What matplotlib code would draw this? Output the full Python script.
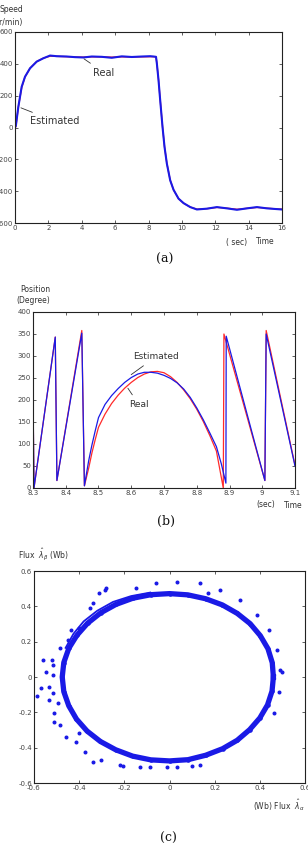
import matplotlib
matplotlib.use("Agg")
import matplotlib.pyplot as plt
from matplotlib.ticker import FormatStrFormatter

# ---- (a) speed ----
t_speed = [0, 0.05, 0.2, 0.4, 0.6, 0.9, 1.3, 1.7, 2.1, 2.5, 3.1, 3.6, 4.1, 4.6, 5.2, 5.8, 6.4, 7.0,
           7.6, 8.1, 8.3, 8.45, 8.5, 8.6, 8.7, 8.84, 8.96, 9.1, 9.3, 9.5, 9.8, 10.1, 10.5, 10.9,
           11.5, 12.1, 12.7, 13.3, 13.9, 14.5, 15.1, 15.6, 16.0]
speed_est = [0, 10, 130, 256, 319, 372, 414, 435, 452, 448, 446, 442, 440, 446, 444, 438, 447, 443,
             446, 448, 446, 444, 403, 298, 172, 4, -122, -227, -332, -391, -447, -475, -500, -515,
             -510, -500, -508, -517, -508, -500, -508, -512, -515]
speed_real = [0, 5, 128, 250, 318, 372, 414, 436, 448, 447, 445, 443, 442, 444, 444, 442, 444, 443,
              444, 445, 445, 444, 405, 300, 175, 6, -120, -225, -330, -392, -447, -476, -500, -513,
              -510, -502, -507, -514, -508, -502, -507, -511, -513]

# ---- (b) position ----
t_pos_est = [8.299, 8.303, 8.368, 8.373, 8.449, 8.457, 8.47, 8.48, 8.49, 8.50, 8.52, 8.54, 8.56,
             8.58, 8.60, 8.62, 8.64, 8.66, 8.68, 8.70, 8.72, 8.74, 8.76, 8.78, 8.80, 8.82, 8.84,
             8.86, 8.875, 8.889, 8.890, 9.008, 9.012, 9.100]
pos_est = [290, 0, 343, 17, 352, 5, 62, 98, 130, 160, 190, 210, 226, 240, 251, 259, 263, 263,
           261, 256, 249, 239, 225, 206, 182, 155, 125, 94, 55, 11, 345, 17, 350, 50]
t_pos_real = [8.299, 8.303, 8.368, 8.373, 8.449, 8.457, 8.47, 8.48, 8.49, 8.50, 8.52, 8.54, 8.56,
              8.58, 8.60, 8.62, 8.64, 8.66, 8.68, 8.70, 8.72, 8.74, 8.76, 8.78, 8.80, 8.82, 8.84,
              8.86, 8.881, 8.883, 9.008, 9.012, 9.100]
pos_real = [290, 0, 343, 17, 358, 5, 45, 80, 110, 138, 168, 192, 211, 227, 240, 251, 259, 264,
            265, 262, 253, 240, 223, 203, 179, 151, 119, 84, 0, 350, 17, 358, 52]

# ---- (c) flux locus ----
ring_x = [0.460, 0.455, 0.436, 0.402, 0.357, 0.300, 0.234, 0.160, 0.081, 0.000, -0.082, -0.162,
          -0.237, -0.305, -0.363, -0.410, -0.446, -0.468, -0.475, -0.468, -0.446, -0.412, -0.365,
          -0.306, -0.238, -0.163, -0.083, 0.000, 0.082, 0.160, 0.235, 0.300, 0.355, 0.400, 0.434,
          0.454, 0.460]
ring_y = [0.000, 0.081, 0.160, 0.234, 0.302, 0.360, 0.408, 0.443, 0.465, 0.472, 0.466, 0.446,
          0.411, 0.363, 0.304, 0.236, 0.162, 0.082, 0.000, -0.083, -0.163, -0.238, -0.306, -0.365,
          -0.412, -0.448, -0.469, -0.475, -0.468, -0.443, -0.406, -0.358, -0.298, -0.232, -0.158,
          -0.080, 0.000]
outer_x = [-0.085, -0.170, -0.250, -0.320, -0.380, -0.425, -0.460]
outer_y = [0.478, 0.458, 0.425, 0.375, 0.315, 0.245, 0.165]
stray_x = [-0.588, -0.569, -0.547, -0.561, -0.520, -0.517, -0.514, -0.532, -0.517, -0.532, -0.510,
           -0.513, -0.487, -0.487, -0.450, -0.436, -0.399, -0.354, -0.339, -0.310, -0.280, -0.287,
           -0.147, -0.058, 0.031, 0.135, 0.224, 0.172, 0.313, 0.387, 0.439, 0.476, 0.490, 0.498,
           0.483, 0.461, -0.458, -0.413, -0.376, -0.339, -0.302, -0.221, -0.206, -0.132, -0.087,
           -0.013, 0.031, 0.098, 0.135, -0.399, -0.495]
stray_y = [-0.108, -0.064, 0.030, 0.096, 0.096, 0.068, 0.011, -0.055, -0.092, -0.130, -0.206,
           -0.253, -0.272, 0.162, 0.209, 0.266, 0.275, 0.389, 0.417, 0.474, 0.502, 0.492, 0.502,
           0.530, 0.540, 0.530, 0.492, 0.474, 0.436, 0.351, 0.266, 0.153, 0.040, 0.030, -0.083,
           -0.206, -0.338, -0.366, -0.423, -0.479, -0.470, -0.498, -0.504, -0.508, -0.508, -0.511,
           -0.508, -0.504, -0.498, -0.319, -0.149]

W, H = 308, 850
fig = plt.figure(figsize=(W / 100, H / 100), dpi=100)


def box(l, t, r, b):
    return [l / W, 1 - b / H, (r - l) / W, (b - t) / H]


def ptext(x, y, s, **kw):
    kw.setdefault("fontsize", 5.5)
    kw.setdefault("color", "#333333")
    fig.text(x / W, 1 - y / H, s, va="center", **kw)


def style(ax):
    ax.tick_params(direction="in", top=True, right=True, labelsize=5, colors="#444444",
                   length=2.5, width=0.6, pad=1.5)
    for s in ax.spines.values():
        s.set_linewidth(0.8)
        s.set_color("#222222")


blue = "#1a1ae6"
red = "#ff2a2a"

# (a)
ax1 = fig.add_axes(box(15, 32, 282, 223))
ax1.plot(t_speed, speed_real, color=red, lw=1.0)
ax1.plot(t_speed, speed_est, color=blue, lw=1.5)
ax1.set_xlim(0, 16)
ax1.set_ylim(-600, 600)
ax1.set_xticks(range(0, 17, 2))
ax1.set_yticks(range(-600, 601, 200))
style(ax1)
ax1.annotate("Real", xy=(4.0, 441), xytext=(4.7, 345), fontsize=7, color="#333333",
             va="center", arrowprops=dict(arrowstyle="-", color="#333333", lw=0.6))
ax1.annotate("Estimated", xy=(0.2, 130), xytext=(0.9, 40), fontsize=7, color="#333333",
             va="center", arrowprops=dict(arrowstyle="-", color="#333333", lw=0.6))
ptext(0, 10, "Speed")
ptext(-4, 22, "(r/min)")
ptext(226, 242, "( sec)")
ptext(256, 242, "Time")
ptext(165, 259, "(a)", fontsize=9, family="DejaVu Serif", color="#111111", ha="center")

# (b)
ax2 = fig.add_axes(box(33, 312, 295, 488))
ax2.plot(t_pos_real, pos_real, color=red, lw=0.9)
ax2.plot(t_pos_est, pos_est, color=blue, lw=0.9)
ax2.set_xlim(8.3, 9.1)
ax2.set_ylim(0, 400)
ax2.set_xticks([8.3, 8.4, 8.5, 8.6, 8.7, 8.8, 8.9, 9.0, 9.1])
ax2.set_yticks(range(0, 401, 50))
ax2.xaxis.set_major_formatter(FormatStrFormatter("%g"))
style(ax2)
ax2.annotate("Estimated", xy=(8.593, 254), xytext=(8.605, 298), fontsize=6.5, color="#333333",
             va="center", arrowprops=dict(arrowstyle="-", color="#333333", lw=0.6))
ax2.annotate("Real", xy=(8.585, 232), xytext=(8.593, 190), fontsize=6.5, color="#333333",
             va="center", arrowprops=dict(arrowstyle="-", color="#333333", lw=0.6))
ptext(20, 289, "Position")
ptext(16, 300, "(Degree)")
ptext(256, 505, "(sec)")
ptext(284, 505, "Time")
ptext(166, 521, "(b)", fontsize=9, family="DejaVu Serif", color="#111111", ha="center")

# (c)
ax3 = fig.add_axes(box(34, 571, 305, 783))
ax3.plot(ring_x, ring_y, color=blue, lw=3.8)
ax3.plot(outer_x, outer_y, color=blue, lw=1.3)
ax3.plot(ring_x, ring_y, ".", color=blue, ms=4.5)
ax3.scatter(stray_x, stray_y, s=3.5, color=blue)
ax3.set_xlim(-0.6, 0.6)
ax3.set_ylim(-0.6, 0.6)
ax3.set_xticks([-0.6, -0.4, -0.2, 0, 0.2, 0.4, 0.6])
ax3.set_yticks([-0.6, -0.4, -0.2, 0, 0.2, 0.4, 0.6])
ax3.xaxis.set_major_formatter(FormatStrFormatter("%g"))
ax3.yaxis.set_major_formatter(FormatStrFormatter("%g"))
style(ax3)
ptext(18, 555, r"Flux  $\hat{\lambda}_{\beta}$ (Wb)")
ptext(253, 805, r"(Wb) Flux  $\hat{\lambda}_{\alpha}$")
ptext(168, 838, "(c)", fontsize=9, family="DejaVu Serif", color="#111111", ha="center")

fig.savefig("out.png", dpi=100)
